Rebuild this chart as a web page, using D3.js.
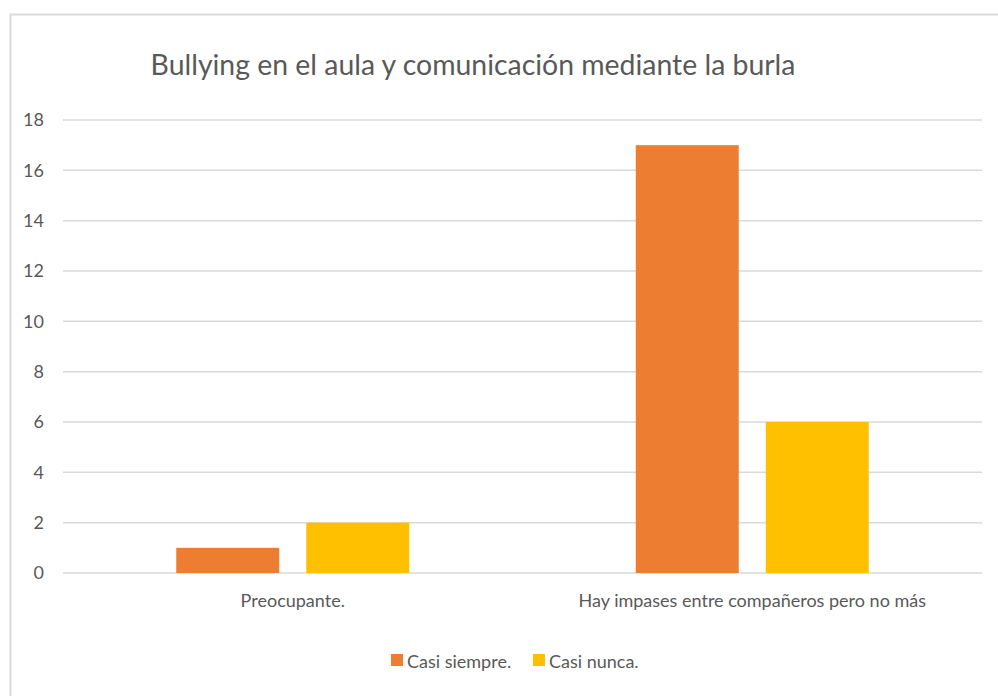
<!DOCTYPE html>
<html>
<head>
<meta charset="utf-8">
<script src="https://cdn.jsdelivr.net/npm/d3@7"></script>
<style>
  body { margin: 0; background: #fff; }
  svg { display: block; font-family: Lato, "Open Sans", sans-serif; }
</style>
</head>
<body>
<div id="container"></div>
<script>
const categories = ["Preocupante.", "Hay impases entre compañeros pero no más"];
const seriesNames = ["Casi siempre.", "Casi nunca."];
const casiSiempre = [1, 17];
const casiNunca = [2, 6];
const yTicks = [0, 2, 4, 6, 8, 10, 12, 14, 16, 18];

const colors = ["#ED7D31", "#FFC000"];
const WIDTH = 998;
const HEIGHT = 696;
const plot = { left: 63, right: 982, top: 120, bottom: 573 };

const svg = d3
  .select("#container")
  .append("svg")
  .attr("width", WIDTH)
  .attr("height", HEIGHT);

// chart frame
svg
  .append("rect")
  .attr("x", 10.5)
  .attr("y", 14.5)
  .attr("width", 1000)
  .attr("height", 700)
  .attr("fill", "#fff")
  .attr("stroke", "#d9d9d9")
  .attr("stroke-width", 2);

svg
  .append("text")
  .attr("x", 473)
  .attr("y", 75)
  .attr("text-anchor", "middle")
  .style("font-size", "28.4px")
  .style("fill", "#595959")
  .text("Bullying en el aula y comunicación mediante la burla");

const yScale = d3
  .scaleLinear()
  .domain([0, 18])
  .range([plot.bottom, plot.top]);

const x0 = d3
  .scaleBand()
  .domain(categories)
  .range([plot.left, plot.right]);

const x1 = d3
  .scaleBand()
  .domain(seriesNames)
  .range([0, x0.bandwidth()])
  .paddingInner(0.208)
  .paddingOuter(0.871);

// gridlines
svg
  .append("g")
  .selectAll("line")
  .data(yTicks)
  .enter()
  .append("line")
  .attr("x1", plot.left)
  .attr("x2", plot.right)
  .attr("y1", d => yScale(d))
  .attr("y2", d => yScale(d))
  .attr("stroke", "#d9d9d9")
  .attr("stroke-width", 1.5);

const yAxis = d3.axisLeft(yScale).tickValues(yTicks).tickSize(0).tickPadding(0);
const gy = svg
  .append("g")
  .attr("transform", "translate(44,0)")
  .call(yAxis);
gy.select(".domain").remove();
gy.selectAll("text")
  .style("font-size", "18px")
  .style("fill", "#595959")
  .style("font-family", "Lato, sans-serif");

const rows = categories.map((c, i) => ({
  cat: c,
  values: [casiSiempre[i], casiNunca[i]]
}));

const groups = svg
  .selectAll(".group")
  .data(rows)
  .enter()
  .append("g")
  .attr("class", "group")
  .attr("transform", d => `translate(${x0(d.cat)},0)`);

groups
  .selectAll("rect")
  .data(d => d.values.map((v, j) => ({ name: seriesNames[j], value: v, j })))
  .enter()
  .append("rect")
  .attr("x", d => x1(d.name))
  .attr("width", x1.bandwidth())
  .attr("y", d => yScale(d.value))
  .attr("height", d => yScale(0) - yScale(d.value))
  .attr("fill", d => colors[d.j]);

const xAxis = d3.axisBottom(x0).tickSize(0).tickPadding(0);
const gx = svg
  .append("g")
  .attr("transform", `translate(0,${plot.bottom + 21})`)
  .call(xAxis);
gx.select(".domain").remove();
gx.selectAll("text")
  .style("font-size", "18px")
  .style("fill", "#595959")
  .style("font-family", "Lato, sans-serif");

// LEGEND
const legendX = [391, 533];
const legend = svg.append("g").attr("class", "legend");
seriesNames.forEach((name, i) => {
  legend
    .append("rect")
    .attr("x", legendX[i])
    .attr("y", 654)
    .attr("width", 12)
    .attr("height", 12)
    .attr("fill", colors[i]);
  legend
    .append("text")
    .attr("x", legendX[i] + 16)
    .attr("y", 668)
    .style("font-size", "18px")
    .style("fill", "#595959")
    .text(name);
});
</script>
</body>
</html>
